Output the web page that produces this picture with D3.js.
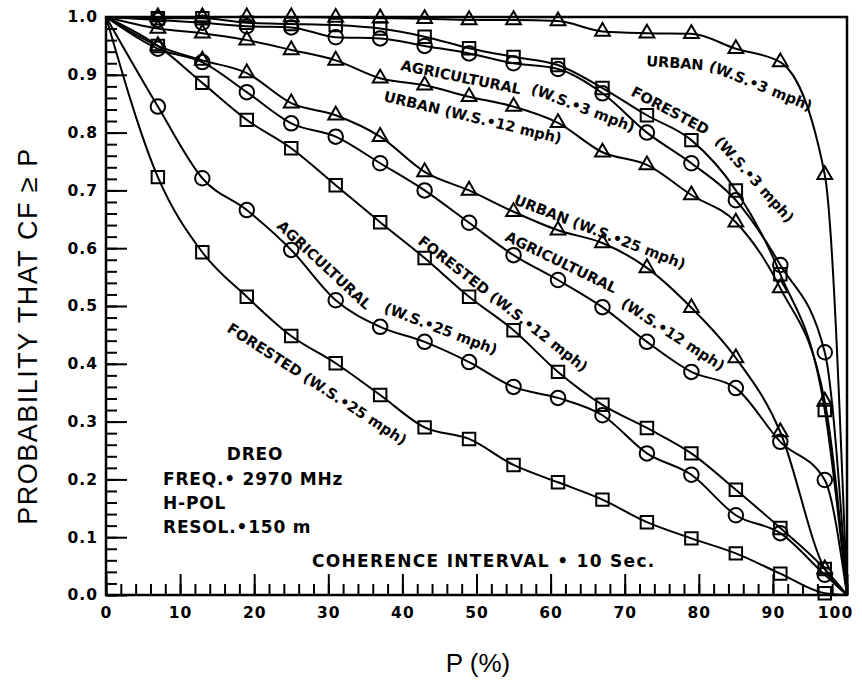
<!DOCTYPE html>
<html>
<head>
<meta charset="utf-8">
<script src="https://cdn.jsdelivr.net/npm/d3@7"></script>
<style>
  body { margin: 0; background: #fff; }
  svg text { fill: #000; }
</style>
</head>
<body>
<script>
// P (%) values where the curves were sampled (markers at 7..97)
var pct = [0, 7, 13, 19, 25, 31, 37, 43, 49, 55, 61, 67, 73, 79, 85, 91, 97, 100];

var urban3  = [1, 1.0, 1.0, 1.0, 1.0, 0.999, 0.998, 0.997, 0.995, 0.995, 0.993, 0.975, 0.972, 0.971, 0.945, 0.922, 0.727, 0];
var agri3   = [1, 0.995, 0.99, 0.984, 0.982, 0.965, 0.963, 0.95, 0.937, 0.92, 0.91, 0.868, 0.80, 0.747, 0.683, 0.571, 0.42, 0];
var forest3 = [1, 0.998, 0.998, 0.99, 0.988, 0.986, 0.98, 0.966, 0.946, 0.931, 0.917, 0.877, 0.83, 0.787, 0.70, 0.555, 0.32, 0];
var urban12 = [1, 0.98, 0.972, 0.96, 0.943, 0.925, 0.894, 0.882, 0.862, 0.845, 0.817, 0.766, 0.744, 0.692, 0.645, 0.531, 0.335, 0];
var urban25 = [1, 0.95, 0.925, 0.903, 0.851, 0.83, 0.793, 0.732, 0.70, 0.663, 0.631, 0.609, 0.566, 0.497, 0.41, 0.282, 0.045, 0];
var agri12  = [1, 0.945, 0.922, 0.87, 0.816, 0.793, 0.747, 0.70, 0.644, 0.588, 0.545, 0.498, 0.438, 0.386, 0.358, 0.265, 0.199, 0];
var forest12 = [1, 0.95, 0.886, 0.822, 0.773, 0.709, 0.645, 0.583, 0.516, 0.458, 0.386, 0.329, 0.289, 0.245, 0.182, 0.116, 0.045, 0];
var agri25  = [1, 0.845, 0.721, 0.666, 0.597, 0.51, 0.464, 0.438, 0.403, 0.36, 0.341, 0.311, 0.245, 0.208, 0.138, 0.107, 0.035, 0];
var forest25 = [1, 0.723, 0.593, 0.516, 0.448, 0.401, 0.346, 0.29, 0.27, 0.225, 0.195, 0.165, 0.126, 0.098, 0.072, 0.037, 0.003, 0];

var xMajor = d3.range(0, 101, 10);
var yMajor = d3.range(0, 1.01, 0.1);

// series -> marker shape
var series = [
  {v: urban3, m: "tri"}, {v: agri3, m: "circ"}, {v: forest3, m: "sq"},
  {v: urban12, m: "tri"}, {v: urban25, m: "tri"}, {v: agri12, m: "circ"},
  {v: forest12, m: "sq"}, {v: agri25, m: "circ"}, {v: forest25, m: "sq"}
];

var W = 862, H = 682;
var pLeft = 106, pRight = 847, pTop = 17, pBottom = 595;

var svg = d3.select("body").append("svg")
    .attr("width", W)
    .attr("height", H)
    .style("font-family", "'DejaVu Sans', sans-serif");

var x = d3.scaleLinear().domain([0, 100]).range([pLeft, pRight]);
var y = d3.scaleLinear().domain([0, 1]).range([pBottom, pTop]);

// axes: ticks point inward, minor and major in separate groups
svg.append("g").attr("transform", "translate(0," + pBottom + ")")
    .call(d3.axisBottom(x).tickValues(d3.range(0, 101, 2)).tickSize(-11).tickFormat(""));
var gxMaj = svg.append("g").attr("transform", "translate(0," + pBottom + ")")
    .call(d3.axisBottom(x).tickValues(xMajor).tickSize(-21).tickPadding(12).tickFormat(d3.format("d")));
svg.append("g").attr("transform", "translate(" + pLeft + ",0)")
    .call(d3.axisLeft(y).tickValues(d3.range(0, 1.001, 0.02)).tickSize(-11).tickFormat(""));
svg.append("g").attr("transform", "translate(" + pLeft + ",0)")
    .call(d3.axisLeft(y).tickValues(yMajor).tickSize(-21).tickPadding(8).tickFormat(d3.format(".1f")));
svg.selectAll(".domain").remove();

svg.selectAll(".tick line").attr("stroke", "#000").attr("stroke-width", 2);
svg.selectAll(".tick text")
    .style("font-size", "15.5px").style("font-weight", "bold")
    .style("letter-spacing", "1px")
    .style("font-family", "'DejaVu Sans', sans-serif");
// last x label sits a little left of its tick so it stays on the page
gxMaj.selectAll(".tick text").filter(function(d) { return d === 100; }).attr("dx", -12);

// frame
svg.append("rect")
    .attr("x", pLeft).attr("y", pTop)
    .attr("width", pRight - pLeft).attr("height", pBottom - pTop)
    .attr("fill", "none").attr("stroke", "#000").attr("stroke-width", 2.5);

// curves
var line = d3.line()
    .x(function(d, i) { return x(pct[i]); })
    .y(function(d) { return y(d); })
    .curve(d3.curveMonotoneX);

var shapes = {
  tri: d3.symbol().type(d3.symbolTriangle).size(95),
  sq: d3.symbol().type(d3.symbolSquare).size(155),
  circ: d3.symbol().type(d3.symbolCircle).size(165)
};

series.forEach(function(s) {
  svg.append("path")
      .attr("d", line(s.v))
      .attr("fill", "none")
      .attr("stroke", "#000")
      .attr("stroke-width", 2);
  svg.append("g").selectAll("path")
    .data(s.v.slice(1, -1))
    .join("path")
      .attr("transform", function(d, i) { return "translate(" + x(pct[i + 1]) + "," + y(d) + ")"; })
      .attr("d", shapes[s.m])
      .attr("fill", "none")
      .attr("stroke", "#000")
      .attr("stroke-width", 2);
});

// curve labels
var labels = [
  {t: "URBAN", x: 646, y: 66, a: 4},
  {t: "(W.S.•3 mph)", x: 708, y: 70, a: 22},
  {t: "AGRICULTURAL", x: 400, y: 70, a: 11.5},
  {t: "(W.S.•3 mph)", x: 530, y: 93, a: 21},
  {t: "URBAN (W.S.•12 mph)", x: 383, y: 101, a: 13.5},
  {t: "FORESTED", x: 630, y: 95, a: 28},
  {t: "(W.S.•3 mph)", x: 714, y: 142, a: 48},
  {t: "URBAN (W.S.•25 mph)", x: 513, y: 204, a: 21},
  {t: "AGRICULTURAL", x: 504, y: 240, a: 26},
  {t: "(W.S.•12 mph)", x: 620, y: 306, a: 33},
  {t: "FORESTED (W.S.•12 mph)", x: 417, y: 243, a: 38},
  {t: "AGRICULTURAL", x: 276, y: 227, a: 43},
  {t: "(W.S.•25 mph)", x: 383, y: 312, a: 21},
  {t: "FORESTED (W.S.•25 mph)", x: 226, y: 331, a: 33}
];

svg.append("g").selectAll("text")
  .data(labels)
  .join("text")
    .attr("transform", function(d) { return "translate(" + d.x + "," + d.y + ") rotate(" + d.a + ")"; })
    .style("font-size", "14.5px")
    .style("font-weight", "bold")
    .text(function(d) { return d.t; });

// notes
var notes = svg.append("g").style("font-size", "17px").style("font-weight", "bold")
    .style("letter-spacing", "0.8px");
notes.append("text").attr("x", 255).attr("y", 460).attr("text-anchor", "middle").text("DREO");
notes.append("text").attr("x", 163).attr("y", 485).text("FREQ.• 2970 MHz");
notes.append("text").attr("x", 163).attr("y", 509).text("H-POL");
notes.append("text").attr("x", 163).attr("y", 533).text("RESOL.•150 m");
notes.append("text").attr("x", 312).attr("y", 567)
    .style("font-size", "17px").style("letter-spacing", "1.3px")
    .text("COHERENCE INTERVAL • 10 Sec.");

// axis titles
svg.append("text")
    .attr("transform", "translate(37," + ((pTop + pBottom) / 2 + 30) + ") rotate(-90)")
    .attr("text-anchor", "middle")
    .style("font-family", "'Liberation Sans', Arial, sans-serif")
    .style("font-size", "27px")
    .style("letter-spacing", "1.5px")
    .text("PROBABILITY THAT CF ≥ P");

svg.append("text")
    .attr("x", 478).attr("y", 672)
    .attr("text-anchor", "middle")
    .style("font-family", "'Liberation Sans', Arial, sans-serif")
    .style("font-size", "26px")
    .text("P (%)");
</script>
</body>
</html>
